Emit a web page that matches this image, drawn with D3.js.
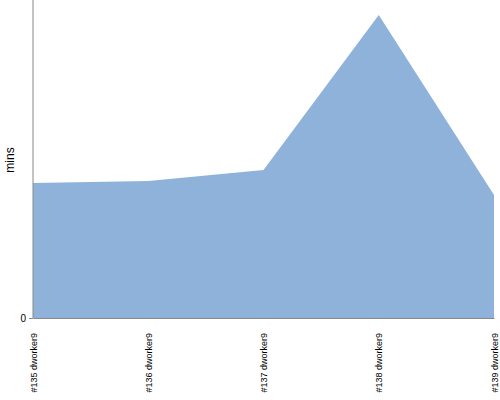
<!DOCTYPE html>
<meta charset="utf-8">
<style>
  body { margin: 0; background: #fff; }
  * { font-family: "Liberation Sans", Arial, sans-serif; }
  .axis path, .axis line { stroke: #888; }
</style>
<body>
<script src="https://d3js.org/d3.v7.min.js"></script>
<script>
// data
var builds = ["#135 dworker9", "#136 dworker9", "#137 dworker9", "#138 dworker9", "#139 dworker9"];
var mins = [13.5, 13.7, 14.8, 30.3, 12.3];
var yTicks = [0];

var svg = d3.select("body").append("svg")
    .attr("width", 500)
    .attr("height", 400);

var margin = {top: 0, right: 6, bottom: 82, left: 33},
    width = 500 - margin.left - margin.right,
    height = 400 - margin.top - margin.bottom,
    g = svg.append("g").attr("transform", "translate(" + margin.left + "," + margin.top + ")");

var x = d3.scalePoint().domain(builds).range([0, width]);
var y = d3.scaleLinear().domain([0, 31.8]).range([height, 0]);

var data = builds.map(function(b, i) { return {build: b, value: mins[i]}; });

var area = d3.area()
  .x(function(d) { return x(d.build); })
  .y0(height)
  .y1(function(d) { return y(d.value); });

g.append("path")
  .datum(data)
  .attr("d", area)
  .attr("fill", "#8fb2db");

// x axis
var xAxis = g.append("g")
  .attr("class", "axis")
  .attr("transform", "translate(0," + height + ")")
  .call(d3.axisBottom(x).tickSize(0).tickSizeOuter(0));
xAxis.selectAll("text")
  .attr("transform", "rotate(-90)")
  .attr("text-anchor", "end")
  .attr("x", -15)
  .attr("y", 0)
  .attr("dy", "0.35em")
  .style("font-size", "9px")
  .attr("fill", "#000");

// y axis
var yAxis = g.append("g")
  .attr("class", "axis")
  .call(d3.axisLeft(y).tickValues(yTicks).tickSize(4).tickSizeOuter(0));
yAxis.selectAll("text")
  .style("font-size", "10px")
  .attr("fill", "#000");
yAxis.select(".domain").attr("d", "M0," + height + "V0");

svg.append("text")
  .attr("transform", "translate(14," + 160 + ") rotate(-90)")
  .attr("text-anchor", "middle")
  .style("font-size", "12px")
  .text("mins");
</script>
</body>
